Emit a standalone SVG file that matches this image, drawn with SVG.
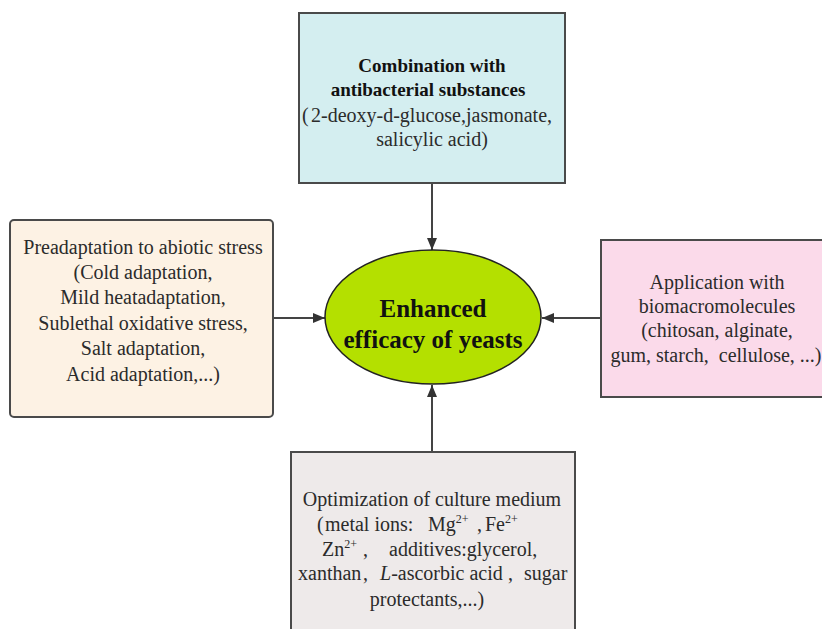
<svg xmlns="http://www.w3.org/2000/svg" width="822" height="629" viewBox="0 0 822 629">
<style>
.box{stroke:#4a4a4a;stroke-width:2}
.t{font-family:'Liberation Serif','Times New Roman','DejaVu Serif',serif;font-size:20px;fill:#2b2b2b}
.b{font-family:'Liberation Serif','Times New Roman','DejaVu Serif',serif;font-weight:bold;fill:#111}
.c{text-anchor:middle}
.sup{font-size:12px}
.conn{stroke:#444;stroke-width:2;fill:none;marker-end:url(#ah)}
</style>
<defs>
<marker id="ah" viewBox="0 0 12 10" refX="12" refY="5" markerWidth="12" markerHeight="10" markerUnits="userSpaceOnUse" orient="auto">
<path d="M0,0 L12,5 L0,10 Z" fill="#333"/>
</marker>
</defs>
<rect width="822" height="629" fill="#fff"/>
<g id="connectors">
<line class="conn" x1="432" y1="184" x2="432" y2="250"/>
<line class="conn" x1="274" y1="318" x2="325" y2="318"/>
<line class="conn" x1="601" y1="318" x2="542" y2="318"/>
<line class="conn" x1="432" y1="451" x2="432" y2="385"/>
</g>
<g id="top">
<rect class="box" x="299" y="13" width="266" height="170" fill="#d4eef0"/>
<text class="b c" x="432" y="72" font-size="19">Combination with</text>
<text class="b c" x="428" y="96" font-size="19">antibacterial substances</text>
<text class="t" y="122" font-size="19.5"><tspan x="302">(</tspan><tspan x="311">2-deoxy-d-glucose,jasmonate,</tspan></text>
<text class="t c" x="432" y="146" font-size="19.5">salicylic acid)</text>
</g>
<g id="left">
<rect class="box" x="10" y="220" width="263" height="197" rx="4" fill="#fdf2e4"/>
<text class="t c" x="143" y="254">Preadaptation to abiotic stress</text>
<text class="t c" x="143" y="279">(Cold adaptation,</text>
<text class="t c" x="143" y="304">Mild heatadaptation,</text>
<text class="t c" x="143" y="330">Sublethal oxidative stress,</text>
<text class="t c" x="143" y="355">Salt adaptation,</text>
<text class="t c" x="143" y="381">Acid adaptation,...)</text>
</g>
<g id="right">
<rect class="box" x="601" y="240" width="240" height="157" fill="#fbdaea"/>
<text class="t c" x="717" y="289">Application with</text>
<text class="t c" x="717" y="313">biomacromolecules</text>
<text class="t c" x="717" y="337">(chitosan, alginate,</text>
<text class="t c" x="716" y="362" xml:space="preserve">gum, starch,  cellulose, ...)</text>
</g>
<g id="bottom">
<rect class="box" x="291" y="452" width="284" height="190" fill="#eeeaea"/>
<text class="t c" x="432" y="506">Optimization of culture medium</text>
<text class="t" y="531"><tspan x="317">(</tspan><tspan x="325">metal ions:</tspan><tspan x="428">Mg</tspan><tspan class="sup" dy="-8">2+</tspan><tspan x="477" dy="8">,</tspan><tspan x="485">Fe</tspan><tspan class="sup" dy="-8">2+</tspan></text>
<text class="t" y="556"><tspan x="322">Zn</tspan><tspan class="sup" dy="-8">2+</tspan><tspan x="363" dy="8">,</tspan><tspan x="389">additives:glycerol,</tspan></text>
<text class="t" y="580"><tspan x="298">xanthan</tspan><tspan x="363">,</tspan><tspan x="380" font-style="italic">L</tspan><tspan>-ascorbic acid</tspan><tspan x="508">,</tspan><tspan x="524">sugar</tspan></text>
<text class="t c" x="427" y="606">protectants,...)</text>
</g>
<g id="center">
<ellipse cx="433" cy="317" rx="108" ry="67" fill="#b4e000" stroke="#222" stroke-width="1.5"/>
<text class="b c" x="433" y="317" font-size="25">Enhanced</text>
<text class="b c" x="433" y="348" font-size="25">efficacy of yeasts</text>
</g>
</svg>
